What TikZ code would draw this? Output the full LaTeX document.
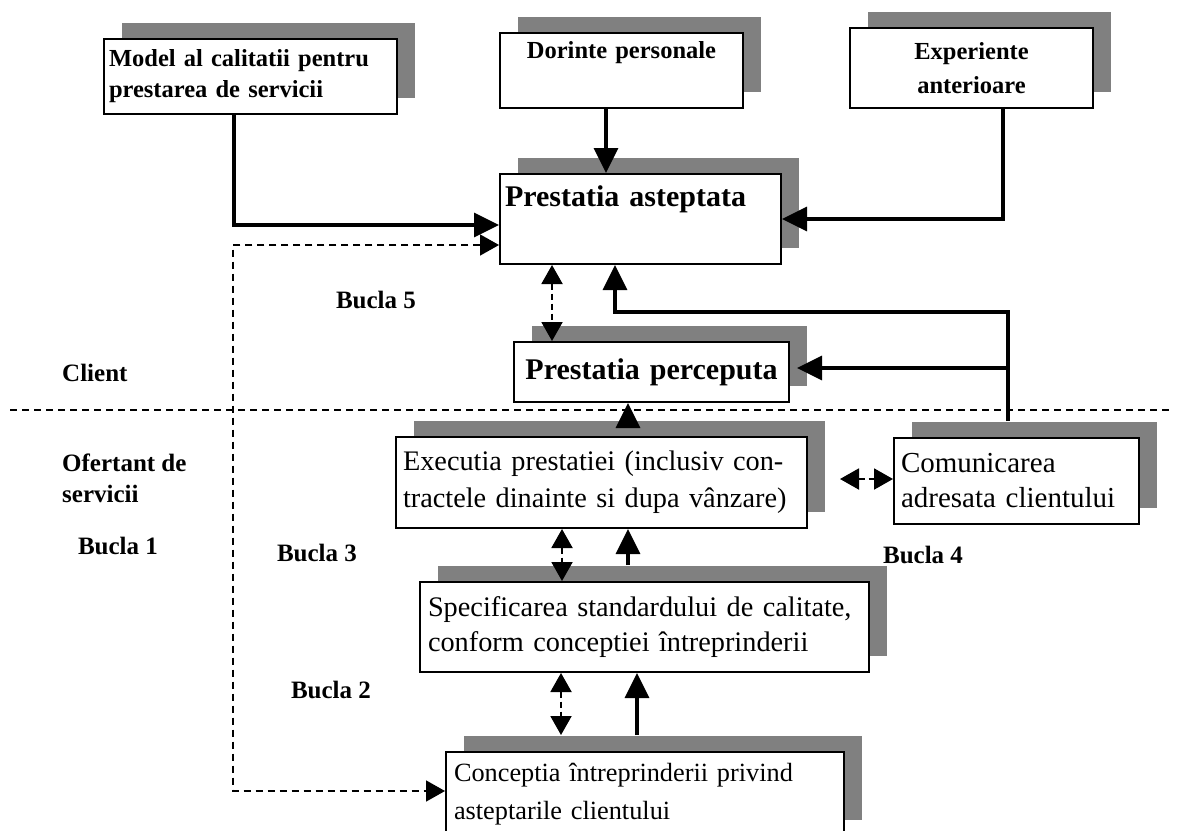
\documentclass[tikz,border=0pt]{standalone}
\usepackage{fontspec}
\setmainfont{Liberation Serif}
\usetikzlibrary{arrows.meta,shadows}
\hyphenpenalty=10000
\definecolor{shadowgray}{HTML}{808080}
\begin{document}
\begin{tikzpicture}[x=1pt,y=-1pt,
  box/.style={draw, line width=2pt, fill=white, anchor=north west, inner ysep=0pt,
    drop shadow={shadow xshift=18pt, shadow yshift=16pt, fill=shadowgray, opacity=1}},
  toptext/.style={font=\fontsize{24.5}{31}\selectfont\bfseries},
  bigtext/.style={font=\fontsize{30}{36}\selectfont\bfseries},
  lbl/.style={font=\fontsize{25}{31}\selectfont\bfseries, inner sep=0pt},
  conn/.style={line width=3.3pt, -{Triangle[length=25pt,width=24pt]}},
  dtip/.tip={Triangle[length=19pt,width=21pt]},
  loopd/.style={line width=2pt, dash pattern=on 6pt off 4pt, dtip-dtip},
  loopl/.style={line width=1.6pt, dash pattern=on 7pt off 5pt, dtip-dtip},
  sep/.style={line width=1.6pt, dash pattern=on 7pt off 5pt}
]
\clip (0,0) rectangle (1177,830);
\fill[white] (0,0) rectangle (1177,830);

% client side boxes
\node[box, toptext, minimum width=293pt, minimum height=75pt, text width=283pt,
  inner xsep=5pt, align=left] (model) at (103,38)
  {Model al calitatii pentru\\prestarea de servicii};
\node[box, toptext, minimum width=243pt, minimum height=75pt, text width=233pt,
  inner xsep=5pt, align=center] (dor) at (499,32)
  {Dorinte personale\\\strut};
\node[box, font=\fontsize{24.5}{34}\selectfont\bfseries, minimum width=243pt,
  minimum height=80pt, text width=233pt, inner xsep=5pt, align=center] (exp) at (849,27)
  {Experiente\\anterioare};
\node[box, bigtext, minimum width=281pt, minimum height=90pt, text width=271pt,
  inner xsep=5pt, align=left] (asp) at (499,173)
  {Prestatia asteptata\\\strut};
\node[box, bigtext, minimum width=275pt, minimum height=60pt, text width=265pt,
  inner xsep=5pt, align=center] (perc) at (513,341)
  {Prestatia perceputa};

% provider side boxes
\node[box, font=\fontsize{28.3}{37}\selectfont, minimum width=411pt,
  minimum height=91pt, text width=397pt, inner xsep=7pt, align=left] (exe) at (395,436)
  {\mbox{Executia prestatiei (inclusiv con-}\\\mbox{tractele dinainte si dupa vânzare)}};
\node[box, font=\fontsize{29}{35}\selectfont, minimum width=245pt,
  minimum height=86pt, text width=231pt, inner xsep=7pt, align=left] (com) at (893,437)
  {Comunicarea\\\mbox{adresata clientului}};
\node[box, font=\fontsize{28.3}{35}\selectfont, minimum width=449pt,
  minimum height=90pt, text width=433pt, inner xsep=8pt, align=left] (spec) at (419,581)
  {\mbox{Specificarea standardului de calitate,}\\\mbox{conform conceptiei întreprinderii}};
\node[box, font=\fontsize{26.3}{38}\selectfont, minimum width=398pt,
  minimum height=84pt, text width=382pt, inner xsep=8pt, align=left] (conc) at (445,751)
  {\mbox{Conceptia întreprinderii privind}\\\mbox{asteptarile clientului}};

% top edges of the shadows, where connectors start
\coordinate (exetop) at ([yshift=16pt]exe.north);
\coordinate (comtop) at ([yshift=16pt]com.north);
\coordinate (spectop) at ([yshift=16pt]spec.north);
\coordinate (conctop) at ([yshift=16pt]conc.north);
\coordinate (sepL) at (10,410);
\coordinate (sepR) at (1172,410);
\coordinate (junc) at (1008,368);

% side labels
\node[lbl, anchor=west] (client) at (62,373) {Client};
\node[lbl, anchor=west, align=left] (ofertant) at (62,478) {Ofertant de\\servicii};
\node[lbl] (b1) at (118,546) {Bucla 1};
\node[lbl] (b5) at (376,300) {Bucla 5};
\node[lbl] (b3) at (317,553) {Bucla 3};
\node[lbl] (b4) at (923,555) {Bucla 4};
\node[lbl] (b2) at (331,690) {Bucla 2};

% divider between client and provider
\draw[sep] (sepL) -- (sepR);

% inputs to the expected service
\draw[conn] (model.south -| 234,0) |- (asp.west |- 0,225);
\draw[conn] (dor.south -| 606,0) -- (asp.north -| 606,0);
\draw[conn] (exp.south -| 1003,0) |- (asp.east |- 0,219);

% loop 1
\draw[loopl] (asp.west |- 0,245) -| (233,791) -- (conc.west |- 0,791);

% loop 5
\draw[loopd] (asp.south -| 552,0) -- (perc.north -| 552,0);

% communication feeds both client boxes
\draw[conn] (comtop -| 1008,0) |- (615,312) -- (asp.south -| 615,0);
\draw[conn, shorten >=7pt] (junc) -- (perc.east |- junc);

% provider chain
\draw[conn] (exetop -| 628,0) -- (perc.south -| 628,0);
\draw[loopd] ([xshift=32pt]exe.east |- 0,479) -- (com.west |- 0,479);
\draw[loopd] (exe.south -| 562,0) -- (spec.north -| 562,0);
\draw[conn] (spectop -| 628,0) -- (exe.south -| 628,0);
\draw[loopd] (spec.south -| 561,0) -- (conctop -| 561,0);
\draw[conn] (conctop -| 637,0) -- (spec.south -| 637,0);
\end{tikzpicture}
\end{document}
